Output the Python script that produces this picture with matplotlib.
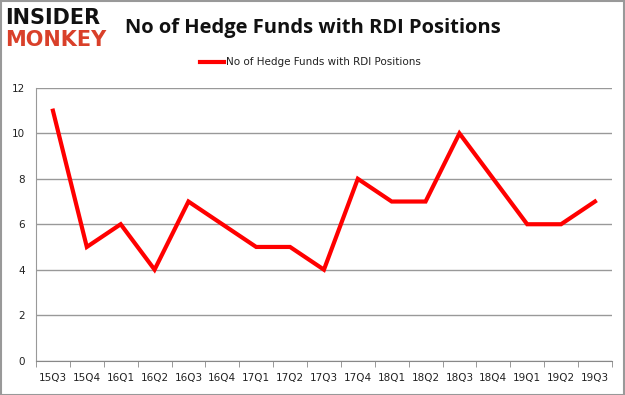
import matplotlib.pyplot as plt
import numpy as np

quarters = ['15Q3', '15Q4', '16Q1', '16Q2', '16Q3', '16Q4', '17Q1', '17Q2', '17Q3',
            '17Q4', '18Q1', '18Q2', '18Q3', '18Q4', '19Q1', '19Q2', '19Q3']
funds = [11, 5, 6, 4, 7, 6, 5, 5, 4, 8, 7, 7, 10, 8, 6, 6, 7]
series_name = 'No of Hedge Funds with RDI Positions'

fig = plt.figure(figsize=(6.25, 3.95), dpi=100)
ax = fig.add_axes([0.0576, 0.0873, 0.9214, 0.690])

x = np.arange(len(quarters))
ax.plot(x, funds, color='#ff0000', linewidth=3, solid_joinstyle='miter')

ax.set_xlim(-0.5, len(quarters) - 0.5)
ax.set_ylim(0, 12)
ax.set_yticks(range(0, 13, 2))
ax.set_xticks(x)
ax.set_xticklabels(quarters)
# tick marks sit between categories
ax.set_xticks(np.arange(-0.5, len(quarters), 1), minor=True)
ax.tick_params(axis='x', which='major', length=0, pad=9, labelsize=7.5, labelcolor='#222222')
ax.tick_params(axis='x', which='minor', length=4, color='#888888')
ax.tick_params(axis='y', length=0, pad=8, labelsize=7.5, labelcolor='#222222')
for lab in ax.get_xticklabels() + ax.get_yticklabels():
    lab.set_fontfamily('DejaVu Sans')

ax.grid(axis='y', color='#999999', linewidth=1)
ax.set_axisbelow(True)
for s in ['top', 'right']:
    ax.spines[s].set_visible(False)
ax.spines['left'].set_color('#999999')
ax.spines['bottom'].set_color('#888888')

# title and legend
fig.text(0.50, 0.93, 'No of Hedge Funds with RDI Positions', ha='center', va='center',
         fontsize=14.5, fontweight='bold', family='Open Sans', color='#111111')
fig.lines.append(plt.Line2D([0.32, 0.358], [0.843, 0.843], color='#ff0000', linewidth=3,
                            transform=fig.transFigure))
fig.text(0.362, 0.843, series_name, ha='left', va='center', fontsize=7.5,
         family='DejaVu Sans', color='#222222')

# logo
fig.text(0.008, 0.955, 'INSIDER', ha='left', va='center', fontsize=15, fontweight='heavy',
         family='DejaVu Sans', color='#111111')
fig.text(0.008, 0.898, 'MONKEY', ha='left', va='center', fontsize=15, fontweight='heavy',
         family='DejaVu Sans', color='#d9402a')

# frame around the picture
fig.patches.append(plt.Rectangle((0.001, 0.001), 0.997, 0.996, fill=False,
                                 edgecolor='#999999', linewidth=1.5, transform=fig.transFigure))

fig.savefig('out.png', dpi=100)
